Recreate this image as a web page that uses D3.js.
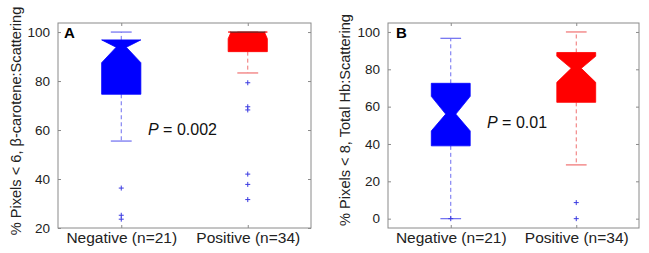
<!DOCTYPE html>
<html>
<head>
<meta charset="utf-8">
<script src="https://cdn.jsdelivr.net/npm/d3@7"></script>
<style>
  body { margin: 0; background: #fff; }
  svg { display: block; font-family: "Liberation Sans", Arial, sans-serif; }
</style>
</head>
<body>
<div id="chart-area"></div>
<script>
// Data
const groups = ['Negative (n=21)', 'Positive (n=34)'];
const panelNames = ['A', 'B'];
const yLabels = ['% Pixels < 6, \u03b2-carotene:Scattering', '% Pixels < 8, Total Hb:Scattering'];
const pValues = ['0.002', '0.01'];
const yTicksA = [20, 40, 60, 80, 100];
const yTicksB = [0, 20, 40, 60, 80, 100];
const yDomainA = [20, 103.7];
const yDomainB = [-5, 104.8];

// box stats: whisker low, q1, notch low, median, notch high, q3, whisker high
const boxesA = [
  { lo: 55.5, q1: 74.6, nLo: 87.5, med: 93.8, nHi: 100, q3: 96.8, hi: 100 },
  { lo: 83.3, q1: 92.0, nLo: 97.3, med: 100, nHi: 102.7, q3: 100, hi: 100 }
];
const boxesB = [
  { lo: 0, q1: 39.0, nLo: 47.0, med: 56.0, nHi: 65.5, q3: 72.5, hi: 96.6 },
  { lo: 28.8, q1: 62.3, nLo: 73.0, med: 80.5, nHi: 87.0, q3: 89.0, hi: 100 }
];
const outliersA = [[36.3, 25.2, 23.6], [79.3, 69.5, 68.2, 42.0, 37.8, 31.6]];
const outliersB = [[0], [8.6, 0]];

const fills = ['#0000ff', '#ff0000'];
const whiskerColors = ['#6c6cf0', '#f07070'];

const svg = d3.select('#chart-area').append('svg')
  .attr('width', 649)
  .attr('height', 253);

function drawPanel(p) {
  const width = p.width, height = p.height;
  const g = svg.append('g')
    .attr('transform', 'translate(' + p.left + ', ' + p.top + ')');

  const x = d3.scalePoint()
    .domain(groups)
    .range([0, width])
    .padding(0.5);

  const y = d3.scaleLinear()
    .domain(p.yDomain)
    .range([height, 0]);

  const step = x.step();
  const bw = step * 0.31;      // box width
  const cw = step * 0.165;     // cap width
  const inset = bw * 0.37;     // notch depth

  // frame
  g.append('rect')
    .attr('width', width)
    .attr('height', height)
    .attr('fill', 'none')
    .attr('stroke', '#8a8a8a')
    .attr('stroke-width', 1);

  // Y axis (left) with inward ticks
  const yAxisCall = d3.axisLeft(y)
    .tickValues(p.yTicks)
    .tickSizeInner(-3)
    .tickSizeOuter(0)
    .tickPadding(8);
  const ya = g.append('g').attr('class', 'y-axis').call(yAxisCall);
  ya.select('.domain').remove();
  ya.selectAll('line').attr('stroke', '#8a8a8a');
  ya.selectAll('text').attr('font-size', '13.5px').attr('fill', '#222');

  // right axis ticks
  const yr = g.append('g')
    .attr('transform', 'translate(' + width + ', 0)')
    .call(d3.axisRight(y).tickValues(p.yTicks).tickSizeInner(-3).tickSizeOuter(0).tickFormat(''));
  yr.select('.domain').remove();
  yr.selectAll('line').attr('stroke', '#8a8a8a');

  // top axis ticks
  const xt = g.append('g')
    .call(d3.axisTop(x).tickSizeInner(-3).tickSizeOuter(0).tickFormat(''));
  xt.select('.domain').remove();
  xt.selectAll('line').attr('stroke', '#8a8a8a');

  // X axis (bottom)
  const xAxisCall = d3.axisBottom(x)
    .tickSizeInner(-3)
    .tickSizeOuter(0)
    .tickPadding(4);
  const xa = g.append('g')
    .attr('class', 'x-axis')
    .attr('transform', 'translate(0, ' + height + ')')
    .call(xAxisCall);
  xa.select('.domain').remove();
  xa.selectAll('line').attr('stroke', '#8a8a8a');
  xa.selectAll('text').attr('font-size', '15.5px').attr('fill', '#222');

  // whiskers, caps, boxes
  p.boxes.forEach((b, i) => {
    const cx = x(groups[i]);
    const col = whiskerColors[i];

    g.append('line')
      .attr('x1', cx).attr('x2', cx)
      .attr('y1', y(b.q3)).attr('y2', y(b.hi))
      .attr('stroke', col).attr('stroke-dasharray', '4,3');
    g.append('line')
      .attr('x1', cx).attr('x2', cx)
      .attr('y1', y(b.q1)).attr('y2', y(b.lo))
      .attr('stroke', col).attr('stroke-dasharray', '4,3');

    [b.hi, b.lo].forEach((v) => {
      g.append('line')
        .attr('x1', cx - cw / 2).attr('x2', cx + cw / 2)
        .attr('y1', y(v)).attr('y2', y(v))
        .attr('stroke', col).attr('stroke-width', 1.2);
    });

    const L = cx - bw / 2, R = cx + bw / 2;
    const nHi = Math.min(b.nHi, b.q3), nLo = Math.max(b.nLo, b.q1);
    // a median sitting on the box edge only bevels the corners
    const ins = b.med >= b.q3 ? inset * 0.2 : inset;
    const pts = [
      [L, y(b.q1)], [L, y(nLo)], [L + ins, y(b.med)], [L, y(nHi)], [L, y(b.q3)],
      [R, y(b.q3)], [R, y(nHi)], [R - ins, y(b.med)], [R, y(nLo)], [R, y(b.q1)]
    ];
    g.append('path')
      .attr('d', d3.line()(pts) + 'Z')
      .attr('fill', fills[i])
      .attr('stroke', fills[i])
      .attr('stroke-width', 0.8);

    if (b.med >= b.q3) {
      g.append('line')
        .attr('x1', L + 2).attr('x2', R - 2)
        .attr('y1', y(b.med)).attr('y2', y(b.med))
        .attr('stroke', '#333').attr('stroke-width', 1);
    }

    // outliers
    p.outliers[i].forEach((v) => {
      g.append('path')
        .attr('transform', 'translate(' + cx + ', ' + y(v) + ')')
        .attr('d', 'M-2.5,0H2.5M0,-2.5V2.5')
        .attr('stroke', '#3a3ae0')
        .attr('stroke-width', 1);
    });
  });

  // panel letter
  g.append('text')
    .attr('x', p.letterX)
    .attr('y', 15)
    .attr('font-size', '15px')
    .attr('font-weight', 'bold')
    .text(p.name);

  // P value
  const pt = g.append('text')
    .attr('x', p.pX)
    .attr('y', p.pY)
    .attr('font-size', '16px')
    .attr('fill', '#111');
  pt.append('tspan').attr('font-style', 'italic').text('P');
  pt.append('tspan').text(' = ' + p.pValue);

  // Y label
  svg.append('text')
    .attr('transform', 'translate(' + p.labelX + ', ' + p.labelY + ') rotate(-90)')
    .attr('text-anchor', 'middle')
    .attr('font-size', '14.6px')
    .attr('fill', '#222')
    .text(p.yLabel);
}

drawPanel({
  name: panelNames[0], left: 58, top: 23, width: 253, height: 205,
  yDomain: yDomainA, yTicks: yTicksA, boxes: boxesA, outliers: outliersA,
  pValue: pValues[0], pX: 90, pY: 112, letterX: 6,
  yLabel: yLabels[0], labelX: 21, labelY: 121
});

drawPanel({
  name: panelNames[1], left: 388, top: 23, width: 251, height: 205,
  yDomain: yDomainB, yTicks: yTicksB, boxes: boxesB, outliers: outliersB,
  pValue: pValues[1], pX: 99, pY: 105, letterX: 8,
  yLabel: yLabels[1], labelX: 350, labelY: 120
});
</script>
</body>
</html>
